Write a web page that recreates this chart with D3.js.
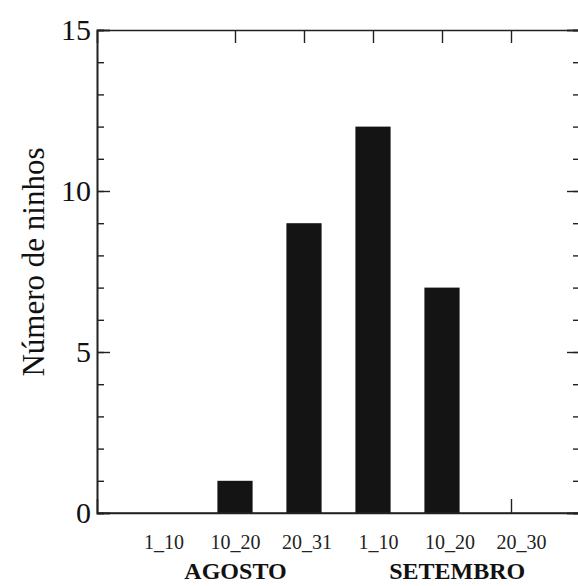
<!DOCTYPE html>
<html>
<head>
<meta charset="utf-8">
<script src="https://cdn.jsdelivr.net/npm/d3@7"></script>
<style>
  body { margin: 0; background: #fff; }
  svg { display: block; }
</style>
</head>
<body>
<div id="chart"></div>
<script>
// data
var periods = ["1_10", "10_20", "20_31", "1_10", "10_20", "20_30"];
var nests = [0, 1, 9, 12, 7, 0];
var months = ["AGOSTO", "SETEMBRO"];
var monthCenters = [2.0, 5.1];          // in slot units
var yMajor = [0, 5, 10, 15];
var xTickSlots = [2, 3, 4, 5, 6];

var W = 578, H = 586;

var svg = d3.select("#chart").append("svg")
    .attr("width", W)
    .attr("height", H);

// x: slot index, bars sit on 1..6, frame goes from 0 to 7
var x = d3.scaleLinear().domain([0, 7]).range([97, 580]);
var y = d3.scaleLinear().domain([0, 15]).range([513, 30]);
// category labels are spread slightly wider than the bars
var xl = d3.scaleLinear().domain([1, 6]).range([164, 521.5]);

var ink = "#222";
var serif = "'Liberation Serif', 'Times New Roman', serif";
var barW = (x(1) - x(0)) * 0.51;

// bars
svg.selectAll("rect.bar")
    .data(nests)
    .enter()
    .append("rect")
    .attr("class", "bar")
    .attr("x", function(d, i) { return x(i + 1) - barW / 2; })
    .attr("y", function(d) { return y(d); })
    .attr("width", barW)
    .attr("height", function(d) { return y(0) - y(d); })
    .attr("fill", "#141414");

//////////
// AXES //
//////////

function styleAxis(g) {
    g.selectAll("path.domain").attr("stroke", ink).attr("stroke-width", 1.6);
    g.selectAll(".tick line").attr("stroke", ink).attr("stroke-width", 1.4);
    g.selectAll(".tick text")
        .attr("fill", "#111")
        .style("font-family", serif);
}

// left minor ticks
svg.append("g")
    .attr("transform", "translate(97,0)")
    .call(d3.axisLeft(y).tickValues(d3.range(0, 16)).tickSize(-7).tickFormat(""))
    .call(styleAxis);

// left major ticks + labels
svg.append("g")
    .attr("transform", "translate(97,0)")
    .call(d3.axisLeft(y).tickValues(yMajor).tickSize(-13).tickPadding(6).tickFormat(d3.format("d")))
    .call(styleAxis)
    .call(function(g) {
        g.selectAll(".tick text").style("font-size", "30px").attr("dy", "0.3em");
    });

// right side (frame edge is just outside the window)
svg.append("g")
    .attr("transform", "translate(580,0)")
    .call(d3.axisRight(y).tickValues(d3.range(0, 16)).tickSize(-7).tickFormat(""))
    .call(styleAxis);
svg.append("g")
    .attr("transform", "translate(580,0)")
    .call(d3.axisRight(y).tickValues(yMajor).tickSize(-13).tickFormat(""))
    .call(styleAxis);

// top axis, ticks pointing down
svg.append("g")
    .attr("transform", "translate(0,30)")
    .call(d3.axisTop(x).tickValues(xTickSlots).tickSize(-13).tickFormat(""))
    .call(styleAxis);

// bottom axis, ticks pointing up (hidden behind bars except the last)
svg.insert("g", "rect.bar")
    .attr("transform", "translate(0,513)")
    .call(d3.axisBottom(x).tickValues(xTickSlots).tickSize(-14).tickFormat(""))
    .call(styleAxis);
// keep the baseline on top of the bars
svg.append("line")
    .attr("x1", 97).attr("x2", 580)
    .attr("y1", 513).attr("y2", 513)
    .attr("stroke", ink).attr("stroke-width", 1.6);

// period labels
svg.selectAll("text.period")
    .data(periods)
    .enter()
    .append("text")
    .attr("class", "period")
    .attr("x", function(d, i) { return xl(i + 1); })
    .attr("y", 549)
    .attr("text-anchor", "middle")
    .style("font-family", serif)
    .style("font-size", "20px")
    .attr("fill", "#222")
    .text(function(d) { return d; });

// month labels
svg.selectAll("text.month")
    .data(months)
    .enter()
    .append("text")
    .attr("class", "month")
    .attr("x", function(d, i) { return xl(monthCenters[i]); })
    .attr("y", 579)
    .attr("text-anchor", "middle")
    .style("font-family", serif)
    .style("font-size", "24px")
    .style("font-weight", "bold")
    .attr("fill", "#111")
    .text(function(d) { return d; });

// y axis title
svg.append("text")
    .attr("transform", "translate(44,262) rotate(-90)")
    .attr("text-anchor", "middle")
    .style("font-family", serif)
    .style("font-size", "31px")
    .attr("fill", "#111")
    .text("Número de ninhos");
</script>
</body>
</html>
